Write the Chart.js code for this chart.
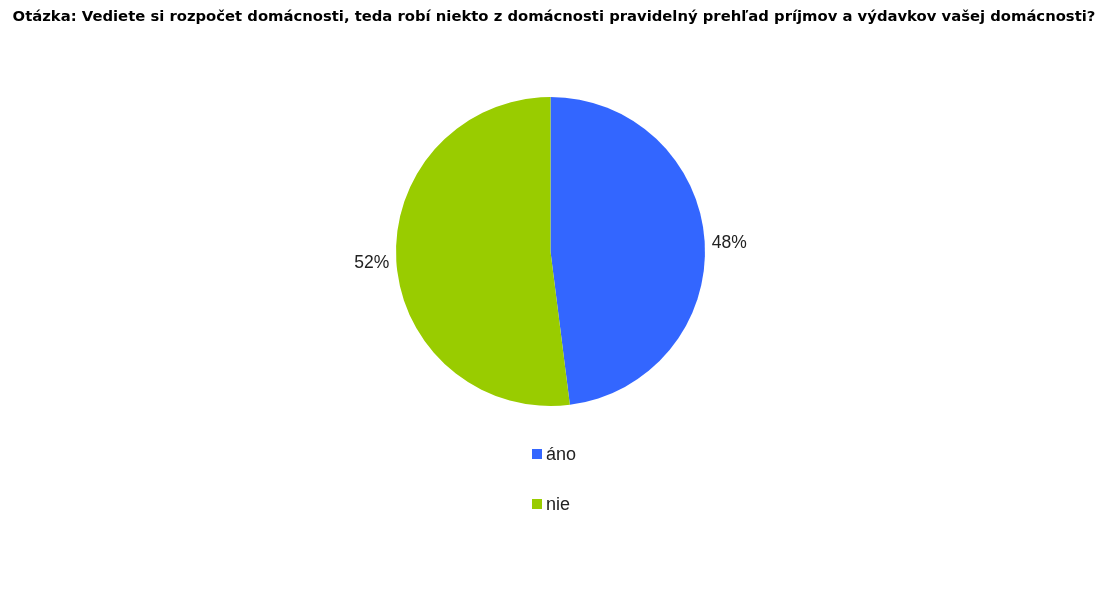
<!DOCTYPE html>
<html>
<head>
<meta charset="utf-8">
<script src="https://cdn.jsdelivr.net/npm/chart.js@4"></script>
<style>
  html, body { margin: 0; padding: 0; background: #fff; }
  #wrap { width: 1106px; height: 594px; }
</style>
</head>
<body>
<div id="wrap"><canvas id="grafico-rozpocet"></canvas></div>
<script>
// Dáta grafu
const kategorie = ["áno", "nie"]
const hodnoty = [48, 52]
const farby = ["#3366FF", "#99CC00"]
const otazka = "Otázka: Vediete si rozpočet domácnosti, teda robí niekto z domácnosti pravidelný prehľad príjmov a výdavkov vašej domácnosti?"

// Titulok, percentá a legenda kreslené ručne
const popisky = {
    id: "popisky",
    afterDraw(chart) {
        const ctx = chart.ctx
        ctx.save()

        // titulok
        ctx.fillStyle = "#000"
        ctx.font = "bold 14.8px 'DejaVu Sans'"
        ctx.textAlign = "center"
        ctx.textBaseline = "alphabetic"
        ctx.fillText(otazka, 554, 21)

        // percentá pri výsekoch
        ctx.font = "17.5px 'Liberation Sans'"
        ctx.fillStyle = "#222"
        ctx.textBaseline = "middle"
        chart.getDatasetMeta(0).data.forEach((arc, i) => {
            const uhol = (arc.startAngle + arc.endAngle) / 2
            const r = arc.outerRadius + 7
            const x = arc.x + Math.cos(uhol) * r
            const y = arc.y + Math.sin(uhol) * r
            ctx.textAlign = Math.cos(uhol) >= 0 ? "left" : "right"
            ctx.fillText(hodnoty[i] + "%", x, y + 2)
        })

        // legenda pod grafom
        ctx.font = "18px 'Liberation Sans'"
        ctx.textAlign = "left"
        ctx.textBaseline = "alphabetic"
        kategorie.forEach((nazov, i) => {
            const y = 460 + i * 50
            ctx.fillStyle = farby[i]
            ctx.fillRect(532, y - 11, 10, 10)
            ctx.fillStyle = "#222"
            ctx.fillText(nazov, 546, y)
        })

        ctx.restore()
    }
}

new Chart(document.getElementById("grafico-rozpocet"), {
    type: "pie",
    data: {
        labels: kategorie,
        datasets: [{
            data: hodnoty,
            backgroundColor: farby,
            borderWidth: 0
        }]
    },
    plugins: [popisky],
    options: {
        responsive: true,
        maintainAspectRatio: false,
        animation: false,
        layout: {
            padding: { top: 97, bottom: 188, left: 396, right: 401 }
        },
        plugins: {
            legend: { display: false },
            title: { display: false },
            tooltip: { enabled: false }
        }
    }
})
</script>
</body>
</html>
